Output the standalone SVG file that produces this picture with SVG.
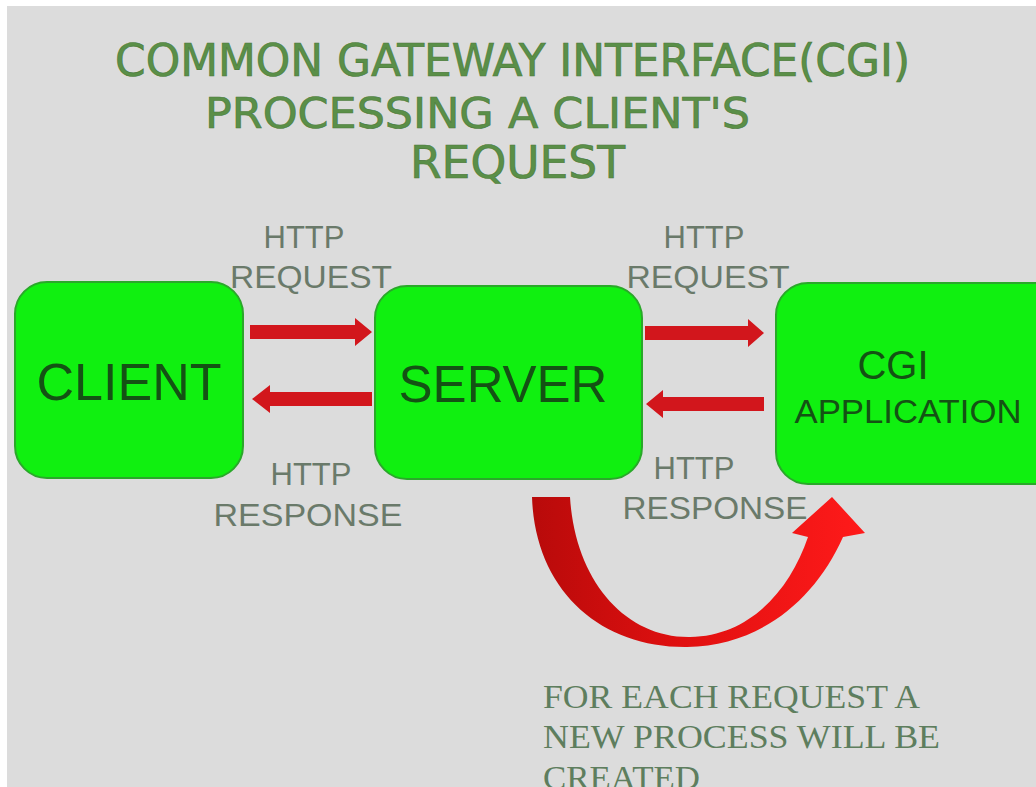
<svg xmlns="http://www.w3.org/2000/svg" width="1036" height="787" viewBox="0 0 1036 787">
<style>
.title{font-family:"DejaVu Sans Condensed","DejaVu Sans",sans-serif;fill:#5a8f48;stroke:#4a7a3a;stroke-width:0.6}
.box{fill:#10f010;stroke:#2aa82a;stroke-width:2}
.boxtxt{font-family:"Liberation Sans",Arial,sans-serif;fill:#145214}
.lbl{font-family:"Liberation Sans",Arial,sans-serif;fill:#6a7a6a;font-size:31px}
.note{font-family:"Liberation Serif","Times New Roman",serif;fill:#5e7e5e;font-size:34px}
.arr{fill:#d2161c}
</style>
<defs>
<linearGradient id="cg" x1="0" y1="0" x2="1" y2="0">
<stop offset="0" stop-color="#b80a0a"/>
<stop offset="0.45" stop-color="#e01010"/>
<stop offset="1" stop-color="#ff1a1a"/>
</linearGradient>
</defs>
<rect x="0" y="0" width="1036" height="787" fill="#ffffff"/>
<rect x="7" y="6" width="1029" height="781" fill="#dcdcdc"/>
<g id="title">
<text class="title" x="115" y="76" font-size="45" textLength="795" lengthAdjust="spacingAndGlyphs">COMMON GATEWAY INTERFACE(CGI)</text>
<text class="title" x="205" y="128" font-size="43" textLength="545" lengthAdjust="spacingAndGlyphs">PROCESSING A CLIENT'S</text>
<text class="title" x="410" y="178" font-size="45" textLength="215" lengthAdjust="spacingAndGlyphs">REQUEST</text>
</g>
<g id="client">
<rect class="box" x="15" y="282" width="228" height="196" rx="32"/>
<text class="boxtxt" x="129" y="400" font-size="52" text-anchor="middle">CLIENT</text>
</g>
<g id="server">
<rect class="box" x="375" y="286" width="267" height="193" rx="32"/>
<text class="boxtxt" x="503" y="402" font-size="51" text-anchor="middle">SERVER</text>
</g>
<g id="cgi">
<rect class="box" x="776" y="283" width="290" height="201" rx="32"/>
<text class="boxtxt" x="893" y="379" font-size="40" text-anchor="middle">CGI</text>
<text class="boxtxt" x="908" y="423" font-size="34" text-anchor="middle" textLength="227" lengthAdjust="spacingAndGlyphs">APPLICATION</text>
</g>
<g id="connectors">
<path class="arr" d="M250 325 H355 V318 L372 332 L355 346 V339 H250 Z"/>
<path class="arr" d="M372 392 H270 V385 L252 399 L270 413 V406 H372 Z"/>
<path class="arr" d="M645 326 H748 V319 L764 333 L748 347 V340 H645 Z"/>
<path class="arr" d="M764 397 H663 V390 L646 404 L663 418 V411 H764 Z"/>
<path fill="url(#cg)" d="M532 497 C535 590 600 648 687 647 C760 646 815 600 843 537 L865 533 L832 497 L792 533 L808 537 C790 590 750 636 690 637 C625 638 575 580 570 497 Z"/>
</g>
<g id="labels">
<text class="lbl" x="304" y="248" text-anchor="middle">HTTP</text>
<text class="lbl" x="311" y="288" text-anchor="middle" textLength="162" lengthAdjust="spacingAndGlyphs">REQUEST</text>
<text class="lbl" x="311" y="485" text-anchor="middle">HTTP</text>
<text class="lbl" x="308" y="526" text-anchor="middle" textLength="189" lengthAdjust="spacingAndGlyphs">RESPONSE</text>
<text class="lbl" x="704" y="248" text-anchor="middle">HTTP</text>
<text class="lbl" x="708" y="288" text-anchor="middle" textLength="163" lengthAdjust="spacingAndGlyphs">REQUEST</text>
<text class="lbl" x="694" y="479" text-anchor="middle">HTTP</text>
<text class="lbl" x="715" y="519" text-anchor="middle" textLength="185" lengthAdjust="spacingAndGlyphs">RESPONSE</text>
</g>
<g id="note">
<text class="note" x="543" y="708" textLength="377" lengthAdjust="spacingAndGlyphs">FOR EACH REQUEST A</text>
<text class="note" x="543" y="748" textLength="397" lengthAdjust="spacingAndGlyphs">NEW PROCESS WILL BE</text>
<text class="note" x="543" y="789" textLength="157" lengthAdjust="spacingAndGlyphs">CREATED</text>
</g>
</svg>
